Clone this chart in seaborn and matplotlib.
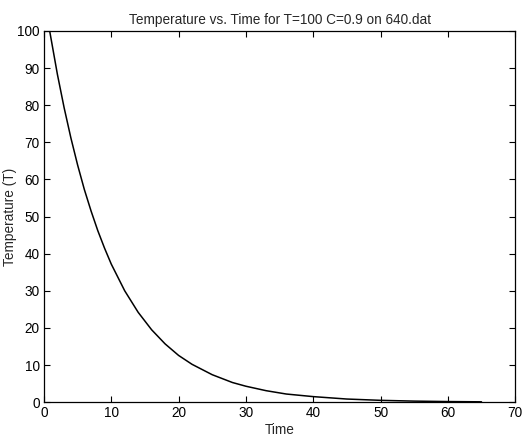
import numpy as np
import pandas as pd
import seaborn as sns
import matplotlib.pyplot as plt

# values
time = [0.85, 2, 3, 4, 5, 6, 7, 8, 9, 10, 12, 14, 16, 18, 20, 22, 25, 28,
        30, 33, 36, 40, 45, 50, 55, 60, 65]
temperature = [100, 88.3, 79.3, 71.2, 63.9, 57.3, 51.5, 46.2, 41.5, 37.2,
               30.0, 24.2, 19.5, 15.7, 12.6, 10.2, 7.4, 5.3, 4.3, 3.1, 2.2,
               1.5, 0.85, 0.5, 0.29, 0.17, 0.1]
xticks = [0, 10, 20, 30, 40, 50, 60, 70]
yticks = [0, 10, 20, 30, 40, 50, 60, 70, 80, 90, 100]

df = pd.DataFrame({'Time': time, 'Temperature': temperature})

sns.set_style('ticks')
plt.rcParams['font.family'] = ['Liberation Sans', 'DejaVu Sans']
plt.rcParams['font.size'] = 9.8

fig = plt.figure(figsize=(5.23, 4.41), dpi=100)
ax = fig.add_axes([0.084, 0.088, 0.901, 0.842])
sns.lineplot(data=df, x='Time', y='Temperature', color='black', linewidth=1.1, ax=ax)

ax.set_xlim(0, 70)
ax.set_ylim(0, 100)
ax.set_xticks(xticks)
ax.set_yticks(yticks)
ax.tick_params(direction='in', top=True, right=True, length=4, width=0.8,
               labelsize=9.8, colors='black', pad=3)
for s in ax.spines.values():
    s.set_visible(True)
    s.set_linewidth(0.9)
    s.set_color('black')
ax.set_xlabel('Time', fontsize=9.8, labelpad=2)
ax.set_ylabel('Temperature (T)', fontsize=9.8)
ax.yaxis.set_label_coords(-0.058, 0.5)
ax.set_title('Temperature vs. Time for T=100 C=0.9 on 640.dat', fontsize=9.8, pad=5)

fig.savefig('out.png', dpi=100)
